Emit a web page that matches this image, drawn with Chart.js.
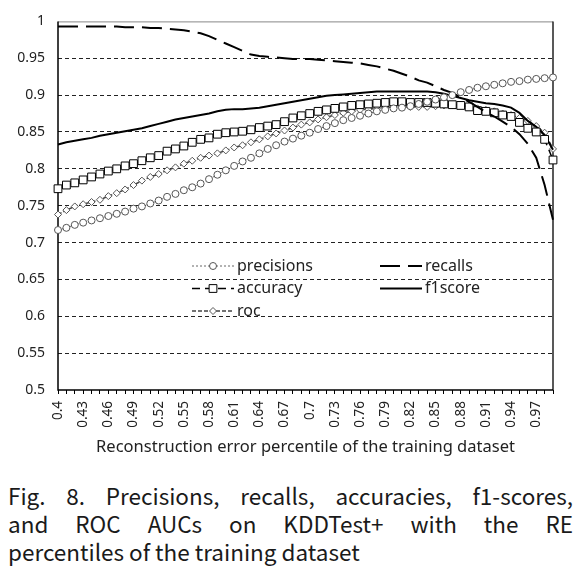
<!DOCTYPE html>
<html>
<head>
<meta charset="utf-8">
<script src="https://cdn.jsdelivr.net/npm/chart.js@4.4.0/dist/chart.umd.min.js"></script>
<style>
  html, body { margin: 0; padding: 0; background: #fff; }
  #wrap { position: relative; width: 581px; height: 465px; }
  #caption { position: absolute; left: 8px; top: 481px; width: 565px;
    font-family: "Noto Sans CJK KR", sans-serif; font-size: 22.5px; line-height: 28px; color: #1a1a1a; }
  .just { text-align: justify; text-align-last: justify; }
</style>
</head>
<body>
<div id="wrap"><canvas id="myChart"></canvas></div>
<div id="caption">
  <div class="just">Fig. 8. Precisions, recalls, accuracies, f1-scores,</div>
  <div class="just">and ROC AUCs on KDDTest+ with the RE</div>
  <div>percentiles of the training dataset</div>
</div>
<script>
    // x categories: reconstruction error percentile
    var percentiles = ['0.4','0.41','0.42','0.43','0.44','0.45','0.46','0.47','0.48','0.49',
                       '0.5','0.51','0.52','0.53','0.54','0.55','0.56','0.57','0.58','0.59',
                       '0.6','0.61','0.62','0.63','0.64','0.65','0.66','0.67','0.68','0.69',
                       '0.7','0.71','0.72','0.73','0.74','0.75','0.76','0.77','0.78','0.79',
                       '0.8','0.81','0.82','0.83','0.84','0.85','0.86','0.87','0.88','0.89',
                       '0.9','0.91','0.92','0.93','0.94','0.95','0.96','0.97','0.98','0.99'];

    var precisions = [0.717,0.720,0.724,0.727,0.730,0.733,0.736,0.739,0.742,0.746,
                      0.749,0.753,0.757,0.762,0.766,0.771,0.775,0.780,0.786,0.792,
                      0.798,0.804,0.810,0.815,0.821,0.827,0.832,0.837,0.841,0.845,
                      0.849,0.854,0.858,0.862,0.866,0.869,0.872,0.875,0.878,0.880,
                      0.882,0.883,0.885,0.888,0.891,0.894,0.897,0.900,0.904,0.907,
                      0.910,0.912,0.914,0.916,0.918,0.919,0.921,0.922,0.923,0.924];

    var recalls = [0.993,0.993,0.993,0.993,0.993,0.993,0.993,0.993,0.992,0.992,
                   0.992,0.991,0.991,0.990,0.989,0.988,0.986,0.984,0.980,0.975,
                   0.970,0.965,0.960,0.955,0.953,0.952,0.951,0.950,0.949,0.949,
                   0.949,0.948,0.947,0.946,0.945,0.944,0.943,0.941,0.939,0.936,
                   0.933,0.929,0.925,0.920,0.917,0.912,0.907,0.903,0.897,0.891,
                   0.884,0.877,0.871,0.864,0.857,0.847,0.834,0.815,0.778,0.731];

    var accuracy = [0.773,0.778,0.781,0.785,0.789,0.793,0.797,0.800,0.804,0.807,
                    0.811,0.815,0.818,0.824,0.827,0.831,0.836,0.840,0.842,0.847,
                    0.849,0.850,0.851,0.853,0.856,0.858,0.860,0.864,0.869,0.872,
                    0.875,0.878,0.880,0.882,0.884,0.886,0.887,0.888,0.889,0.890,
                    0.891,0.891,0.890,0.890,0.890,0.889,0.888,0.887,0.886,0.884,
                    0.879,0.878,0.876,0.873,0.871,0.863,0.855,0.850,0.840,0.812];

    var f1score = [0.833,0.836,0.838,0.840,0.842,0.845,0.847,0.849,0.851,0.853,
                   0.855,0.858,0.861,0.864,0.867,0.869,0.871,0.873,0.875,0.878,
                   0.880,0.881,0.881,0.882,0.883,0.885,0.887,0.889,0.891,0.893,
                   0.895,0.897,0.899,0.900,0.901,0.902,0.903,0.904,0.905,0.905,
                   0.905,0.905,0.905,0.905,0.905,0.904,0.902,0.899,0.896,0.893,
                   0.891,0.889,0.888,0.886,0.883,0.876,0.865,0.857,0.846,0.826];

    var roc = [0.738,0.744,0.749,0.752,0.755,0.758,0.763,0.767,0.772,0.778,
               0.784,0.789,0.793,0.798,0.802,0.807,0.811,0.815,0.818,0.821,
               0.825,0.829,0.832,0.836,0.840,0.844,0.848,0.852,0.856,0.860,
               0.863,0.867,0.870,0.873,0.876,0.878,0.880,0.881,0.882,0.883,
               0.884,0.884,0.884,0.884,0.884,0.885,0.886,0.887,0.887,0.886,
               0.882,0.880,0.878,0.875,0.873,0.869,0.865,0.858,0.849,0.827];

    var FONT = '"Noto Sans", "DejaVu Sans", sans-serif';

    // plot frame + axis lines, Excel style
    var framePlugin = {
        id: 'frame',
        beforeDatasetsDraw: function(chart) {
            var a = chart.chartArea, ctx = chart.ctx;
            ctx.save();
            ctx.lineWidth = 1;
            ctx.strokeStyle = '#888';
            ctx.beginPath();
            ctx.moveTo(a.left, a.top + 0.5);
            ctx.lineTo(a.right, a.top + 0.5);
            ctx.stroke();
            ctx.lineWidth = 1.5;
            ctx.strokeStyle = '#222';
            ctx.beginPath();
            ctx.moveTo(a.right, a.top);
            ctx.lineTo(a.right, a.bottom);
            ctx.stroke();
            ctx.strokeStyle = '#000';
            ctx.beginPath();
            ctx.moveTo(a.left, a.top);
            ctx.lineTo(a.left, a.bottom);
            ctx.lineTo(a.right, a.bottom);
            ctx.stroke();
            ctx.restore();
        }
    };

    // legend drawn inside the plot, two columns
    var legendPlugin = {
        id: 'boxLegend',
        afterDatasetsDraw: function(chart) {
            var ctx = chart.ctx;
            var slots = [[192, 266], [380, 266], [192, 288.5], [380, 288.5], [192, 311]];
            var len = 42;
            chart.data.datasets.forEach(function(ds, i) {
                var x0 = slots[i][0], y = slots[i][1];
                ctx.save();
                ctx.strokeStyle = ds.borderColor;
                ctx.lineWidth = ds.borderWidth;
                ctx.setLineDash(ds.borderDash || []);
                ctx.beginPath();
                ctx.moveTo(x0, y);
                ctx.lineTo(x0 + len, y);
                ctx.stroke();
                ctx.setLineDash([]);
                var r = ds.pointRadius, cx = x0 + len / 2;
                if (r > 0) {
                    ctx.fillStyle = ds.pointBackgroundColor;
                    ctx.strokeStyle = ds.pointBorderColor;
                    ctx.lineWidth = ds.pointBorderWidth;
                    ctx.beginPath();
                    if (ds.pointStyle === 'circle') {
                        ctx.arc(cx, y, r, 0, Math.PI * 2);
                    } else if (ds.pointStyle === 'rect') {
                        var s = r * Math.SQRT1_2;
                        ctx.rect(cx - s, y - s, 2 * s, 2 * s);
                    } else {
                        ctx.moveTo(cx, y - r); ctx.lineTo(cx + r, y);
                        ctx.lineTo(cx, y + r); ctx.lineTo(cx - r, y);
                        ctx.closePath();
                    }
                    ctx.fill();
                    ctx.stroke();
                }
                ctx.fillStyle = '#222';
                ctx.font = '16px ' + FONT;
                ctx.textBaseline = 'middle';
                ctx.fillText(ds.label, x0 + len + 3, y);
                ctx.restore();
            });
        }
    };

    var ctx = document.getElementById('myChart').getContext('2d');
    var chart = new Chart(ctx, {
        type: 'line',
        data: {
            labels: percentiles,
            datasets: [{
                label: 'precisions',
                data: precisions,
                borderColor: '#666',
                borderWidth: 1,
                borderDash: [2, 2],
                pointStyle: 'circle',
                pointRadius: 3.5,
                pointBorderColor: '#555',
                pointBackgroundColor: '#fff',
                pointBorderWidth: 1
            }, {
                label: 'recalls',
                data: recalls,
                borderColor: '#000',
                borderWidth: 2,
                borderDash: [20, 8],
                pointRadius: 0
            }, {
                label: 'accuracy',
                data: accuracy,
                borderColor: '#000',
                borderWidth: 1.5,
                borderDash: [8, 5],
                pointStyle: 'rect',
                pointRadius: 5.5,
                pointBorderColor: '#000',
                pointBackgroundColor: '#fff',
                pointBorderWidth: 1
            }, {
                label: 'f1score',
                data: f1score,
                borderColor: '#000',
                borderWidth: 2,
                pointRadius: 0
            }, {
                label: 'roc',
                data: roc,
                borderColor: '#444',
                borderWidth: 1.5,
                borderDash: [4, 2],
                pointStyle: 'rectRot',
                pointRadius: 3.5,
                pointBorderColor: '#555',
                pointBackgroundColor: '#fff',
                pointBorderWidth: 1
            }]
        },
        options: {
            responsive: true,
            maintainAspectRatio: false,
            animation: false,
            layout: { padding: { top: 15, right: 28, left: 0, bottom: 0 } },
            plugins: {
                legend: { display: false },
                tooltip: { enabled: false }
            },
            scales: {
                x: {
                    offset: false,
                    grid: { display: true, drawOnChartArea: false, drawTicks: true, tickLength: 4, color: '#000' },
                    border: { display: false },
                    ticks: {
                        autoSkip: false,
                        maxRotation: 90,
                        minRotation: 90,
                        padding: 7,
                        color: '#222',
                        font: { family: FONT, size: 13.5 },
                        callback: function(v, i) { return i % 3 === 0 ? this.getLabelForValue(v) : ''; }
                    },
                    title: {
                        display: true,
                        text: 'Reconstruction error percentile of the training dataset',
                        color: '#222',
                        font: { family: FONT, size: 16.5 },
                        padding: { top: 0, bottom: 8 }
                    },
                    afterFit: function(scale) { scale.height = 75; }
                },
                y: {
                    min: 0.5,
                    max: 1,
                    grid: {
                        drawTicks: false,
                        color: function(c) {
                            var v = c.tick.value;
                            return (v < 0.501 || v > 0.999) ? 'rgba(0,0,0,0)' : '#222';
                        }
                    },
                    border: { display: false, dash: [4, 3] },
                    ticks: {
                        stepSize: 0.05,
                        padding: 13,
                        color: '#222',
                        font: { family: FONT, size: 14 },
                        callback: function(v) { return String(parseFloat(v.toFixed(2))); }
                    },
                    afterFit: function(scale) { scale.width = 58; }
                }
            }
        },
        plugins: [framePlugin, legendPlugin]
    });
</script>
</body>
</html>
